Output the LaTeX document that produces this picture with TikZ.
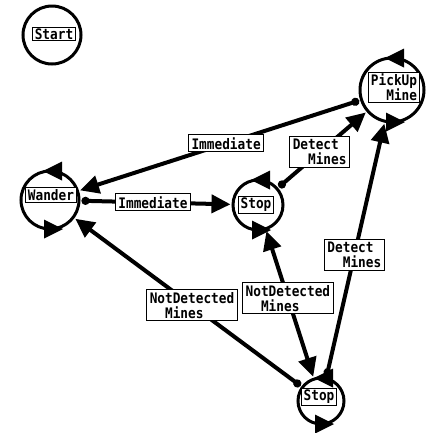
\documentclass[tikz,border=0pt]{standalone}
\usepackage{fontspec}
\newfontfamily\monofont{DejaVu Sans Mono}[FakeStretch=0.88]
\usetikzlibrary{arrows.meta,calc}

\tikzset{
  bigtip/.tip={Triangle[length=19pt,width=18pt]},
  dottip/.tip={Circle[length=8pt]},
}

% two arrowheads riding on a state ring: leftwards on top, rightwards at the bottom
\newcommand\ringarrows[2]{%
  \fill ($(#1.center)+(-7,-#2)$) -- ($(#1.center)+(12,-#2-9.5)$) -- ($(#1.center)+(12,-#2+9.5)$) -- cycle;
  \fill ($(#1.center)+(13,#2)$) -- ($(#1.center)+(-6,#2-9.5)$) -- ($(#1.center)+(-6,#2+9.5)$) -- cycle;
}

\begin{document}
\begin{tikzpicture}[x=1pt,y=-1pt,
  stnode/.style={circle, minimum size=#1, inner sep=0pt, outer sep=1.5pt},
  ring/.style={line width=3pt},
  tname/.style={draw, line width=1pt, fill=white, inner xsep=2.5pt, inner ysep=1.5pt,
    font=\monofont\bfseries\fontsize{14.5}{15}\selectfont, align=left},
  elabel/.style={draw, line width=1pt, fill=white, inner xsep=3pt, inner ysep=2.5pt,
    font=\monofont\bfseries\fontsize{14.5}{15}\selectfont, align=left},
  trans/.style={line width=4pt, {dottip}-{bigtip}},
  both/.style={line width=4pt, {bigtip}-{bigtip}},
]
\useasboundingbox (0,0) rectangle (437,432);

% states
\node[stnode=60pt] (start) at (52,35) {};
\node[stnode=66pt] (pick)  at (392,90) {};
\node[stnode=60pt] (wander) at (50,200) {};
\node[stnode=52pt] (stopa) at (258,205) {};
\node[stnode=48pt] (stopb) at (321,401) {};

\draw[ring] (start.center) circle[radius=29];
\draw[ring] (pick.center) circle[radius=32];
\draw[ring] (wander.center) circle[radius=29];
\draw[ring] (stopa.center) circle[radius=25];
\draw[ring] (stopb.center) circle[radius=23];
\ringarrows{pick}{32}
\ringarrows{wander}{29}
\ringarrows{stopa}{25}
\ringarrows{stopb}{23}

% transitions
\draw[trans] (pick) -- (wander);
\draw[trans] (wander) -- (stopa);
\draw[trans] (stopa) -- (pick);
\draw[trans] (stopb) -- (pick);
\draw[trans] (stopb) -- (wander);
\draw[both] (stopa) -- (stopb);

% transition labels
\node[elabel] (l1) at ($(pick)!0.485!(wander)$) {Immediate};
\node[elabel] (l2) at ($(wander)!0.495!(stopa)$) {Immediate};
\node[elabel] (l3) at ($(stopa)!0.46!(pick)$) {Detect\\\phantom{De}Mines};
\node[elabel] (l4) at ($(stopb)!0.47!(pick)$) {Detect\\\phantom{De}Mines};
\node[elabel] (l5) at ($(stopb)!0.476!(wander)$) {NotDetected\\\phantom{No}Mines};
\node[elabel] (l6) at ($(stopa)!0.475!(stopb)$) {NotDetected\\\phantom{No}Mines};

% state names
\node[tname] (startlbl) at (54,34) {Start};
\node[tname] (picklbl) at (394,87) {PickUp\\\phantom{Pi}Mine};
\node[tname] (wanderlbl) at (51,195) {Wander};
\node[tname] (stopalbl) at (256,205) {Stop};
\node[tname] (stopblbl) at (319,397) {Stop};
\end{tikzpicture}
\end{document}
